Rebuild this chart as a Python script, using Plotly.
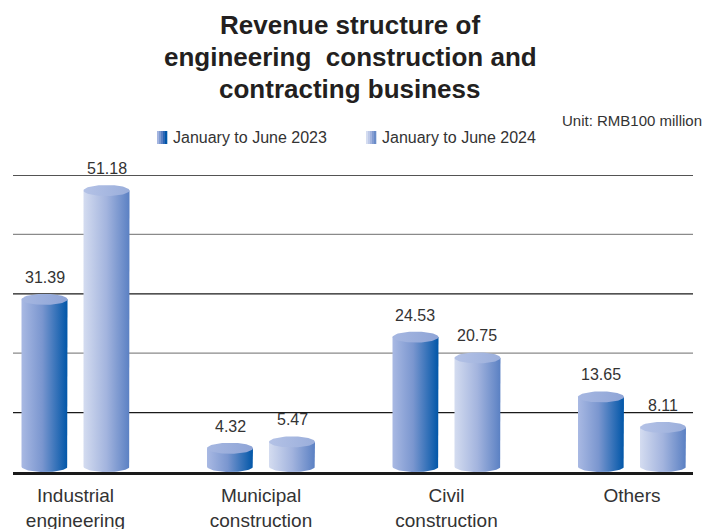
import numpy as np
import plotly.graph_objects as go

# ---------------- data ----------------
categories = ["Industrial<br>engineering", "Municipal<br>construction",
              "Civil<br>construction", "Others"]
series_names = ["January to June 2023", "January to June 2024"]
values_2023 = [31.39, 4.32, 24.53, 13.65]
values_2024 = [51.18, 5.47, 20.75, 8.11]
title_lines = ["Revenue structure of", "engineering  construction and",
               "contracting business"]
unit_text = "Unit: RMB100 million"

# ---------------- style / layout ----------------
W, H = 705, 529
M_L, M_R, M_T, M_B = 13, 12, 175, 57
Y_MAX = 54.0
N_GRID = 5
X_RANGE = [-0.337, 3.329]
plot_w = W - M_L - M_R
plot_h = H - M_T - M_B
px_per_y = plot_h / Y_MAX
px_per_x = plot_w / (X_RANGE[1] - X_RANGE[0])


def px(x):
    """figure pixel x -> paper coordinate"""
    return (x - M_L) / plot_w


def py(y):
    """figure pixel y (from top) -> paper coordinate"""
    return (H - M_B - y) / plot_h


OFFSET_PX = 31.0        # distance of each bar centre from group centre
HALF_W_PX = 23.0        # half bar width
CAP_PX = 5.5            # half height of the elliptical top / bottom

offset = OFFSET_PX / px_per_x
hw = HALF_W_PX / px_per_x
ey = CAP_PX / px_per_y

FONT = "Liberation Sans, Arial, Helvetica, sans-serif"
TXT = "#333333"

styles = [
    dict(scale=[[0, "#a9b9e3"], [0.45, "#7a96cf"], [1, "#0056a8"]],
         cap=[[0, "#a6b7e1"], [1, "#8ea4d6"]], sign=-1,
         swatch=["#a4b5e0", "#7f9ad0", "#5a80c3", "#2c67b5", "#0056a8"],
         leg_x=157),
    dict(scale=[[0, "#d4dcf0"], [0.5, "#a3b4de"], [1, "#5a80c3"]],
         cap=[[0, "#b4c2e6"], [1, "#9aaedb"]], sign=1,
         swatch=["#d4dcf0", "#bdc9e8", "#a3b4de", "#849dd2", "#6a8cc8"],
         leg_x=366),
]

fig = go.Figure()

t_full = np.linspace(0, 2 * np.pi, 73)
t_bottom = np.linspace(0, -np.pi, 37)

for s, (name, vals) in enumerate(zip(series_names, [values_2023, values_2024])):
    st = styles[s]
    for i, v in enumerate(vals):
        xc = i + st["sign"] * offset
        xl, xr = xc - hw, xc + hw
        # body of the cylinder with a rounded bottom
        bx = [xl, xl, xr, xr] + list(xc + hw * np.cos(t_bottom))
        by = [ey, v, v, ey] + list(ey + ey * np.sin(t_bottom))
        fig.add_trace(go.Scatter(
            x=bx, y=by, mode="lines", fill="toself", name=name,
            line=dict(width=0, color="rgba(0,0,0,0)"),
            fillgradient=dict(type="horizontal", colorscale=st["scale"]),
            showlegend=False, hoverinfo="skip"))
        # elliptical top cap
        fig.add_trace(go.Scatter(
            x=list(xc + hw * np.cos(t_full)), y=list(v + ey * np.sin(t_full)),
            mode="lines", fill="toself", name=name,
            line=dict(width=0, color="rgba(0,0,0,0)"),
            fillgradient=dict(type="horizontal", colorscale=st["cap"]),
            showlegend=False, hoverinfo="skip"))
        fig.add_annotation(x=xc, y=v, text=f"{v:.2f}", showarrow=False,
                           yanchor="bottom", yshift=CAP_PX + 6,
                           font=dict(size=16, color=TXT, family=FONT))

    # manual legend: gradient swatch + label
    n = len(st["swatch"])
    sw_w = 10.0
    for j, c in enumerate(st["swatch"]):
        fig.add_shape(type="rect", xref="paper", yref="paper",
                      x0=px(st["leg_x"] + sw_w * j / n),
                      x1=px(st["leg_x"] + sw_w * (j + 1) / n + 0.3),
                      y0=py(144), y1=py(131),
                      line=dict(width=0), fillcolor=c)
    fig.add_annotation(xref="paper", yref="paper", x=px(st["leg_x"] + 14),
                       y=py(137.5), text=name, showarrow=False,
                       xanchor="left", yanchor="middle",
                       font=dict(size=16, color=TXT, family=FONT))

# gridlines (alternating black / grey)
for k in range(1, N_GRID + 1):
    yk = Y_MAX * k / N_GRID
    fig.add_shape(type="line", xref="paper", yref="y", x0=0, x1=1, y0=yk, y1=yk,
                  line=dict(color="#1a1a1a" if k % 2 else "#8a8a8a", width=1.3),
                  layer="below")

# title (one annotation per line) and unit note
for k, line in enumerate(title_lines):
    fig.add_annotation(xref="paper", yref="paper", x=px(350), y=py(25 + 32 * k),
                       text=f"<b>{line}</b>", showarrow=False, xanchor="center",
                       yanchor="middle",
                       font=dict(size=26, color="#231f20", family=FONT))
fig.add_annotation(xref="paper", yref="paper", x=px(704), y=py(121),
                   text=unit_text, showarrow=False, xanchor="right",
                   yanchor="middle", font=dict(size=15, color=TXT, family=FONT))

fig.update_layout(
    width=W, height=H,
    margin=dict(l=M_L, r=M_R, t=M_T, b=M_B, autoexpand=False),
    paper_bgcolor="white", plot_bgcolor="white",
    font=dict(family=FONT, color=TXT),
    showlegend=False,
    xaxis=dict(range=X_RANGE, tickmode="array", tickvals=list(range(len(categories))),
               ticktext=categories, showgrid=False, zeroline=False,
               showline=True, linecolor="#1a1a1a", linewidth=3, ticks="",
               ticklabelstandoff=4, automargin=False,
               tickfont=dict(size=19, color=TXT, family=FONT), fixedrange=True),
    yaxis=dict(range=[0, Y_MAX], showgrid=False, zeroline=False,
               showticklabels=False, showline=False, fixedrange=True,
               automargin=False),
)

# remove the browser's default 8px page margin so the figure fills the window
fig.write_html("out.html",
               config={"displayModeBar": False},
               post_script="document.body.style.margin='0';"
                           "document.body.style.overflow='hidden';")
